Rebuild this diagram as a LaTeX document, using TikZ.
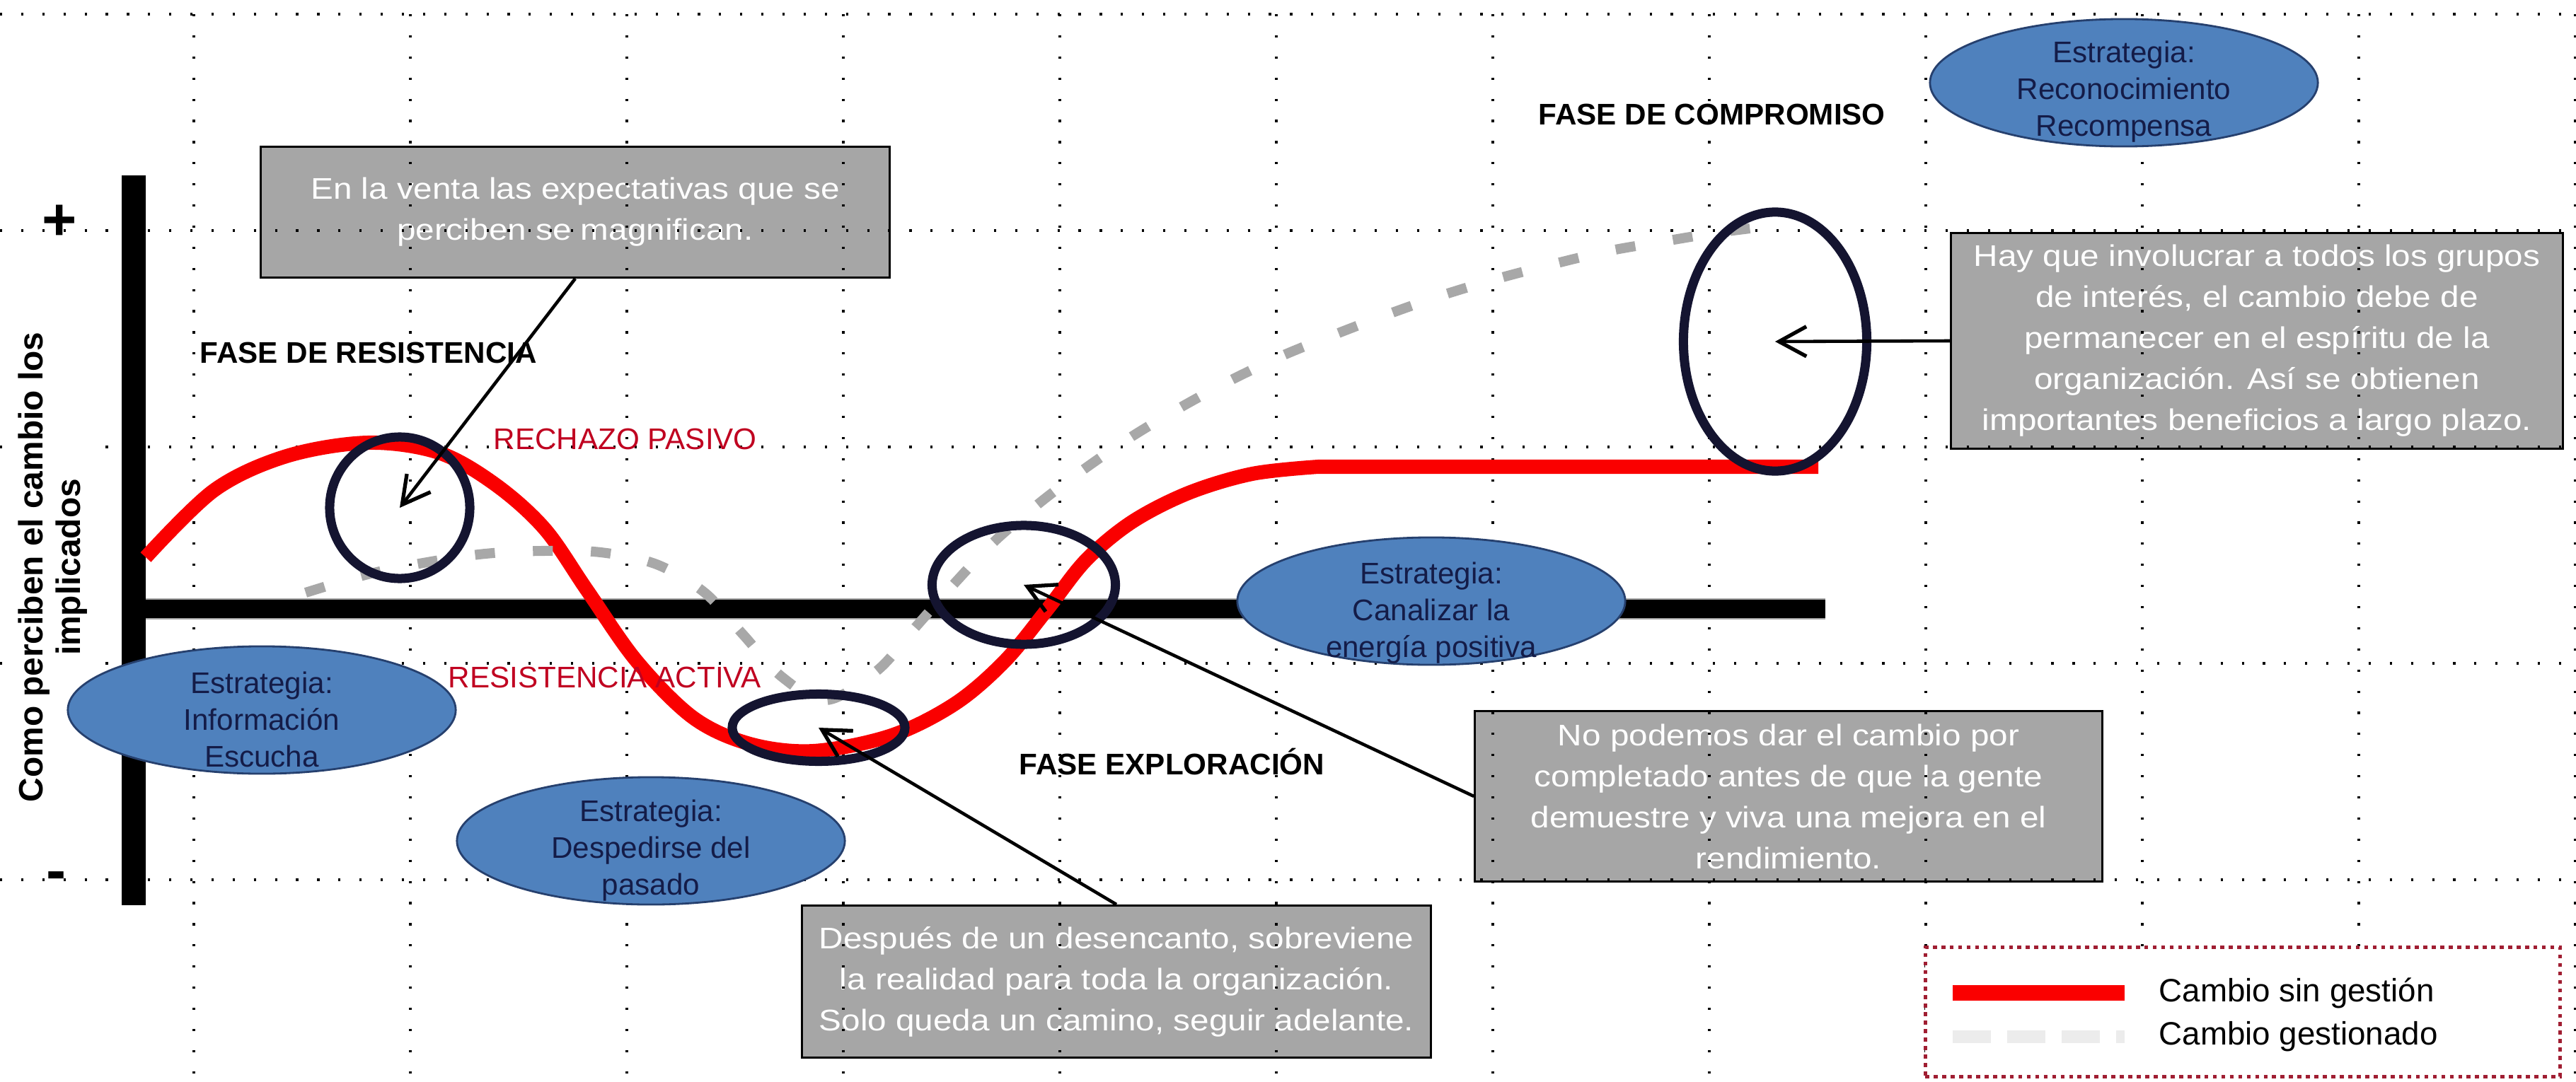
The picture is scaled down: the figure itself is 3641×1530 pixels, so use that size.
\documentclass[tikz,border=0pt]{standalone}
\usepackage{fontspec}
\setmainfont{Liberation Sans}
\newfontfamily\notefont{Liberation Sans}[FakeStretch=1.13]
\usetikzlibrary{positioning, arrows.meta, shapes.geometric}

\definecolor{noteGray}{RGB}{166,166,166}
\definecolor{stratBlue}{RGB}{79,129,189}
\definecolor{stratEdge}{RGB}{38,64,110}
\definecolor{stratInk}{RGB}{20,28,72}
\definecolor{ringInk}{RGB}{20,20,48}
\definecolor{curveRed}{RGB}{250,0,0}
\definecolor{labelRed}{RGB}{192,0,32}
\definecolor{managedGray}{RGB}{168,168,168}
\definecolor{legendGray}{RGB}{236,236,236}
\definecolor{legendEdge}{RGB}{160,30,50}

\begin{document}
\begin{tikzpicture}[x=0.01cm, y=-0.01cm, >={Straight Barb[length=11pt,width=12pt,line width=1.5pt]},
  every node/.style={font=\fontsize{12}{14.8}\selectfont, inner sep=0pt}]
  \tikzset{
    note/.style={draw=black, line width=0.85pt, fill=noteGray, text=white, align=center,
      font=\notefont\fontsize{12}{16.5}\selectfont},
    strat/.style={ellipse, draw=stratEdge, line width=0.8pt, fill=stratBlue,
      minimum width=5.48cm, minimum height=1.8cm},
    stratTxt/.style={text=stratInk, align=center},
    ring/.style={ellipse, draw=ringInk, line width=3.7pt},
    phase/.style={font=\bfseries\fontsize{12}{14.8}\selectfont, anchor=base west},
    redLabel/.style={text=labelRed, anchor=base west},
    keyText/.style={font=\fontsize{13}{15}\selectfont},
    gridDots/.style={dash pattern=on 0.9pt off 7.6pt, line width=0.9pt},
    axisLine/.style={line width=7.4pt},
    unmanaged/.style={curveRed, line width=5.7pt},
    managed/.style={managedGray, line width=4pt, dash pattern=on 8pt off 15.3pt},
    pointer/.style={->, line width=1.3pt}
  }
  \fill[white] (0,0) rectangle (3641,1530);
  \useasboundingbox (0,0) rectangle (3641,1530);

  % Comment boxes (the grid shows through them)
  \node[note, minimum width=8.89cm, minimum height=1.85cm] (expect) at (813,300)
    {En la venta las expectativas que se\\perciben se magnifican.};
  \node[note, minimum width=8.65cm, minimum height=3.05cm] (involve) at (3190,482)
    {Hay que involucrar a todos los grupos\\de interés, el cambio debe de\\permanecer en el espíritu de la\\organización. Así se obtienen\\importantes beneficios a largo plazo.};
  \node[note, minimum width=8.86cm, minimum height=2.41cm] (complete) at (2528,1126)
    {No podemos dar el cambio por\\completado antes de que la gente\\demuestre y viva una mejora en el\\rendimiento.};
  \node[note, minimum width=8.88cm, minimum height=2.15cm] (disenchant) at (1578,1388)
    {Después de un desencanto, sobreviene\\la realidad para toda la organización.\\Solo queda un camino, seguir adelante.};

  % Dotted grid
  \foreach \gx in {274,580,...,3640} \draw[gridDots] (\gx,20) -- (\gx,1530);
  \foreach \gy in {20,326,...,1250} \draw[gridDots] (0,\gy) -- (3641,\gy);

  % Axes
  \coordinate (axisTop) at (189,248);
  \coordinate (axisBottom) at (189,1280);
  \coordinate (origin) at (172,861);
  \coordinate (axisEnd) at (2580,861);
  \draw[axisLine, black!35, line width=8.6pt] (origin) -- (axisEnd);
  \draw[axisLine] (origin) -- (axisEnd);
  \draw[axisLine, line width=9.6pt] (axisTop) -- (axisBottom);

  \node[font=\bfseries\fontsize{24}{24}\selectfont, anchor=base] (plus) at (84,339) {+};
  \node[font=\bfseries\fontsize{24}{24}\selectfont, anchor=base] (minus) at (80,1259) {-};
  \node[rotate=90, align=center, fill=white, font=\bfseries\fontsize{13.6}{15.1}\selectfont]
    (yLabel) at (75,802) {Como perciben el cambio los\\implicados};

  % Curves
  \draw[unmanaged] plot[smooth, tension=0.55] coordinates {(206,788) (303,693) (405,645)
    (520,626) (620,640) (700,685) (770,748) (830,835) (900,935) (980,1015) (1060,1052)
    (1150,1062) (1260,1040) (1350,995) (1420,935) (1480,862) (1535,792) (1600,738)
    (1680,697) (1770,670) (1863,660)} -- (2570,660);
  \draw[managed] plot[smooth, tension=0.55] coordinates {(432,838) (520,812) (604,795)
    (686,783) (767,779) (849,781) (928,798) (996,838) (1050,897) (1105,957) (1168,990)
    (1240,948) (1293,888) (1349,825) (1404,767) (1467,713) (1530,665) (1597,619)
    (1667,577) (1737,539) (1810,504) (1884,474) (1960,445) (2037,418) (2113,395)
    (2193,374) (2273,355) (2348,342) (2427,329) (2515,318)};

  % Strategies
  \node[strat] (infoStrat) at (370,1004) {};
  \node[stratTxt] (infoTxt) at ([yshift=-0.13cm]infoStrat.center) {Estrategia:\\Información\\Escucha};
  \node[strat] (pastStrat) at (920,1189) {};
  \node[stratTxt] (pastTxt) at ([yshift=-0.14cm]pastStrat.center) {Estrategia:\\Despedirse del\\pasado};
  \node[strat] (energyStrat) at (2023,850) {};
  \node[stratTxt] (energyTxt) at ([yshift=-0.17cm]energyStrat.center) {Estrategia:\\Canalizar la\\energía positiva};
  \node[strat] (rewardStrat) at (3002,117) {};
  \node[stratTxt] (rewardTxt) at ([yshift=-0.13cm]rewardStrat.center) {Estrategia:\\Reconocimiento\\Recompensa};

  % Highlight rings and pointers
  \node[ring, minimum width=1.98cm, minimum height=2cm] (peakRing) at (565,718) {};
  \node[ring, minimum width=2.44cm, minimum height=0.95cm] (troughRing) at (1157,1029) {};
  \node[ring, minimum width=2.59cm, minimum height=1.68cm] (crossRing) at (1447,827) {};
  \node[ring, minimum width=2.59cm, minimum height=3.66cm] (plateauRing) at (2509,483) {};

  \draw[pointer] (expect.south) -- (peakRing.center);
  \draw[pointer] (involve.west) -- (plateauRing.center);
  \draw[pointer] (complete.west) -- (crossRing.center);
  \draw[pointer] (disenchant.north) -- (troughRing.center);

  % Phase labels
  \node[phase] (resistPhase) at (282,513) {FASE DE RESISTENCIA};
  \node[redLabel] (passive) at (697,635) {RECHAZO PASIVO};
  \node[redLabel] (active) at (633,972) {RESISTENCIA ACTIVA};
  \node[phase] (explorePhase) at (1440,1095) {FASE EXPLORACIÓN};
  \node[phase] (commitPhase) at (2174,176) {FASE DE COMPROMISO};

  % Legend
  \node[draw=legendEdge, line width=1.4pt, dash pattern=on 1.6pt off 1.8pt, fill=white,
    minimum width=8.97cm, minimum height=1.82cm] (legend) at (3170,1431) {};
  \coordinate (redKeyA) at (2760,1404);
  \coordinate (redKeyB) at (3003,1404);
  \coordinate (grayKeyA) at (2760,1466);
  \coordinate (grayKeyB) at (3003,1466);
  \draw[curveRed, line width=6.3pt] (redKeyA) -- (redKeyB);
  \draw[legendGray, line width=5pt, dash pattern=on 15.4pt off 6.5pt] (grayKeyA) -- (grayKeyB);
  \node[keyText, right=0.48cm of redKeyB] (redKeyTxt) {Cambio sin gestión};
  \node[keyText, right=0.48cm of grayKeyB] (grayKeyTxt) {Cambio gestionado};
\end{tikzpicture}
\end{document}
